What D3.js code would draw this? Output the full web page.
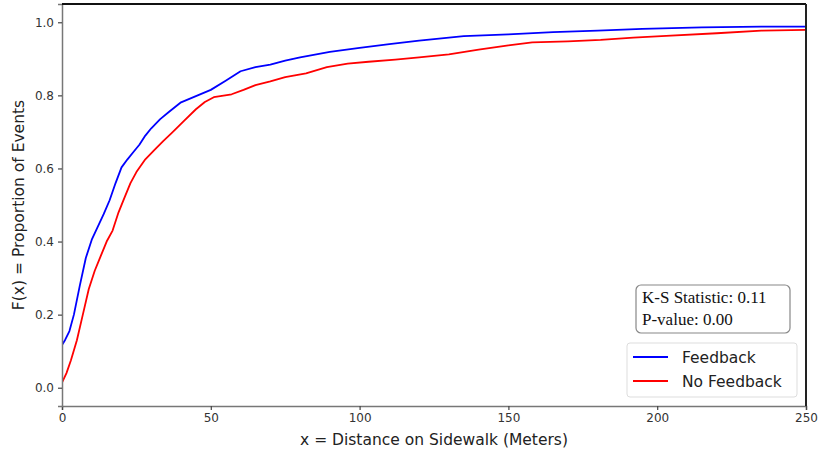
<!DOCTYPE html>
<html><head><meta charset="utf-8">
<script src="https://cdn.jsdelivr.net/npm/d3@7"></script>
<style>body{margin:0;background:#fff}</style>
</head><body>
<svg id="c" width="818" height="456"></svg>
<script>
const xTicks = [0, 50, 100, 150, 200, 250];
const yTicks = [0.0, 0.2, 0.4, 0.6, 0.8, 1.0];
const feedbackX = [0, 0, 1, 2.5, 4, 6, 8, 10, 12, 14, 16, 18, 20, 22, 24, 26, 28, 30, 33, 36, 40, 45, 50, 55, 60, 65, 70, 75, 80, 90, 100, 110, 120, 135, 150, 165, 180, 195, 215, 235, 250];
const feedbackY = [0, 0.117, 0.13, 0.155, 0.2, 0.28, 0.355, 0.405, 0.44, 0.475, 0.513, 0.56, 0.603, 0.625, 0.645, 0.665, 0.69, 0.71, 0.735, 0.755, 0.781, 0.798, 0.815, 0.84, 0.866, 0.877, 0.884, 0.895, 0.904, 0.919, 0.93, 0.94, 0.95, 0.962, 0.967, 0.973, 0.977, 0.982, 0.986, 0.988, 0.988];
const noFeedbackX = [0, 0, 1.5, 3, 5, 7, 9, 11, 13, 15, 17, 19, 21, 23, 25, 28, 31, 34, 37, 41, 45, 48, 51, 57, 61, 65, 70, 75, 82, 89, 96, 103, 112, 120, 130, 140, 150, 158, 170, 181, 192, 203, 220, 235, 250];
const noFeedbackY = [0, 0.014, 0.04, 0.075, 0.13, 0.2, 0.27, 0.32, 0.36, 0.4, 0.43, 0.48, 0.52, 0.56, 0.59, 0.625, 0.65, 0.675, 0.698, 0.73, 0.762, 0.782, 0.795, 0.803, 0.815, 0.828, 0.838, 0.85, 0.86, 0.877, 0.887, 0.892, 0.898, 0.904, 0.912, 0.925, 0.937, 0.945, 0.948, 0.952, 0.958, 0.963, 0.97, 0.977, 0.979];
const seriesNames = ["Feedback", "No Feedback"];
const seriesColors = ["#0000ff", "#ff0000"];
const statLines = ["K-S Statistic: 0.11", "P-value: 0.00"];

const svg = d3.select("#c");
const L = 62, R = 806, T = 4, B = 406;
const x = d3.scaleLinear().domain([0, 250]).range([L, R]);
const y = d3.scaleLinear().domain([-0.05, 1.05]).range([B, T]);

const series = [
  feedbackX.map((v, i) => [v, feedbackY[i]]),
  noFeedbackX.map((v, i) => [v, noFeedbackY[i]])
];
const line = d3.line().x(d => x(d[0])).y(d => y(d[1]));
svg.append("clipPath").attr("id", "clp").append("rect")
  .attr("x", L).attr("y", T).attr("width", R - L).attr("height", B - T);
series.forEach((s, i) => {
  svg.append("path").datum(s).attr("d", line).attr("fill", "none")
    .attr("stroke", seriesColors[i]).attr("stroke-width", 1.8)
    .attr("stroke-linejoin", "round")
    .attr("clip-path", "url(#clp)");
});

// axes
const xa = svg.append("g").attr("transform", `translate(0,${B})`)
  .call(d3.axisBottom(x).tickValues(xTicks).tickSize(4).tickPadding(3).tickFormat(d3.format("d")));
const ya = svg.append("g").attr("transform", `translate(${L},0)`)
  .call(d3.axisLeft(y).tickValues(yTicks).tickSize(4).tickPadding(4).tickFormat(d3.format(".1f")));
[xa, ya].forEach(a => {
  a.select(".domain").attr("stroke", "#777").attr("stroke-width", 1.5);
  a.selectAll(".tick line").attr("stroke", "#444").attr("stroke-width", 1.2);
  a.selectAll(".tick text").attr("font-family", "DejaVu Sans").attr("font-size", 12).attr("fill", "#333");
});
// top & right spines
svg.append("line").attr("x1", L).attr("x2", R).attr("y1", T).attr("y2", T).attr("stroke", "#111").attr("stroke-width", 2);
svg.append("line").attr("x1", R).attr("x2", R).attr("y1", T).attr("y2", B).attr("stroke", "#222").attr("stroke-width", 2);

// labels
svg.append("text").attr("x", (L + R) / 2).attr("y", 445).attr("text-anchor", "middle")
  .attr("font-family", "DejaVu Sans").attr("font-size", 15.5).attr("fill", "#222")
  .text("x = Distance on Sidewalk (Meters)");
svg.append("text").attr("transform", `translate(24,${(T + B) / 2}) rotate(-90)`).attr("text-anchor", "middle")
  .attr("font-family", "DejaVu Sans").attr("font-size", 15.5).attr("fill", "#222")
  .text("F(x) = Proportion of Events");

// stat box
svg.append("rect").attr("x", 636).attr("y", 285).attr("width", 154).attr("height", 48).attr("rx", 5)
  .attr("fill", "#fff").attr("stroke", "#888").attr("stroke-width", 1.2);
statLines.forEach((t, i) => {
  svg.append("text").attr("x", 642).attr("y", 303 + i * 22).attr("font-family", "Liberation Serif")
    .attr("font-size", 17).attr("fill", "#111").text(t);
});

// legend
svg.append("rect").attr("x", 627).attr("y", 343).attr("width", 170).attr("height", 54).attr("rx", 3)
  .attr("fill", "#fff").attr("stroke", "#ddd").attr("stroke-width", 1);
seriesNames.forEach((n, i) => {
  const yy = 357 + i * 24;
  svg.append("line").attr("x1", 633).attr("x2", 668).attr("y1", yy).attr("y2", yy)
    .attr("stroke", seriesColors[i]).attr("stroke-width", 1.8);
  svg.append("text").attr("x", 682).attr("y", yy + 5.5).attr("font-family", "DejaVu Sans")
    .attr("font-size", 15.5).attr("fill", "#222").text(n);
});
</script>
</body></html>
